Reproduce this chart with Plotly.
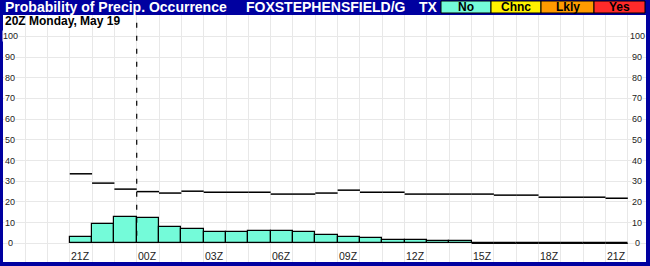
import plotly.graph_objects as go

# ---------------- data ----------------
hour_labels = ["21Z", "00Z", "03Z", "06Z", "09Z", "12Z", "15Z", "18Z", "21Z"]
label_every = 3
pop_no = [3.2, 9.2, 12.9, 12.1, 8.1, 6.8, 5.6, 5.6, 6.0, 6.0, 5.3, 3.9, 2.9,
          2.4, 1.6, 1.6, 1.1, 1.1, 0, 0, 0, 0, 0, 0, 0]
pop_other = [33.6, 29.1, 26.2, 25.0, 24.3, 25.2, 24.7, 24.7, 24.7, 23.8, 23.8,
             24.3, 25.7, 24.7, 24.7, 23.8, 23.8, 23.8, 23.8, 23.3, 23.3, 22.3,
             22.3, 22.3, 21.8]
y_ticks = [0, 10, 20, 30, 40, 50, 60, 70, 80, 90, 100]
now_index = 2.5
title_text = "Probability of Precip. Occurrence"
station = "FOXSTEPHENSFIELD/G"
state = "TX"
subtitle = "20Z Monday, May 19"
cat_names = ["No", "Chnc", "Lkly", "Yes"]
cat_colors = ["#74FBD9", "#FFF200", "#FF9A00", "#FF2A2A"]

# ---------------- geometry helpers ----------------
W, H = 650, 266
ML, MR, MT, MB = 3, 4, 15, 4
PW, PH = W - ML - MR, H - MT - MB
def px(x):
    return (x - ML) / PW
def py(y):
    return (H - MB - y) / PH

FONT = "Liberation Sans, Arial, sans-serif"
n = len(pop_no)
hours = list(range(n))

fig = go.Figure()

# bars
fig.add_trace(go.Bar(x=hours, y=pop_no, width=1,
                     marker=dict(color=cat_colors[0], line=dict(color="black", width=1.2)),
                     hoverinfo="skip", showlegend=False))

# zero baseline for hours with zero value
zx, zy = [], []
for h, v in zip(hours, pop_no):
    if v == 0:
        zx += [h - 0.5, h + 0.5, None]
        zy += [0, 0, None]
fig.add_trace(go.Scatter(x=zx, y=zy, mode="lines",
                         line=dict(color="black", width=1.2),
                         hoverinfo="skip", showlegend=False))

# step segments
sx, sy = [], []
for h, v in zip(hours, pop_other):
    sx += [h - 0.5, h + 0.5, None]
    sy += [v, v, None]
fig.add_trace(go.Scatter(x=sx, y=sy, mode="lines",
                         line=dict(color="black", width=1.5),
                         hoverinfo="skip", showlegend=False))

# current time dashed line
fig.add_shape(type="line", xref="x", yref="y", x0=now_index, x1=now_index,
              y0=106.5, y1=0, line=dict(color="black", width=1.2, dash="5px,8px"),
              layer="above")

annotations = []
# x labels
for k, lab in enumerate(hour_labels):
    annotations.append(dict(x=k * label_every, y=-6.0, xref="x", yref="y",
                            xanchor="center", yanchor="middle",
                            text=lab, showarrow=False,
                            font=dict(family=FONT, size=10.5, color="#222")))
# y labels (left and right)
for v in y_ticks:
    for xp in (10, 637):
        annotations.append(dict(x=px(xp), y=v, xref="paper", yref="y",
                                xanchor="center", yanchor="middle",
                                text=str(v), showarrow=False, bgcolor="white",
                                borderpad=0,
                                font=dict(family=FONT, size=9, color="#222")))
# title bar
ty = py(7.5)
for xp, txt in ((3, title_text), (244, station), (417, state)):
    annotations.append(dict(x=px(xp), y=ty, xref="paper", yref="paper",
                            xanchor="left", yanchor="middle",
                            text="<b>%s</b>" % txt, showarrow=False,
                            font=dict(family=FONT, size=14, color="white")))
annotations.append(dict(x=px(3), y=py(21), xref="paper", yref="paper",
                        xanchor="left", yanchor="middle",
                        text="<b>%s</b>" % subtitle, showarrow=False,
                        font=dict(family=FONT, size=12, color="black")))

# legend boxes
edges = [441, 491, 541, 594, 645]
for i, (name, col) in enumerate(zip(cat_names, cat_colors)):
    x0, x1 = edges[i], edges[i + 1]
    fig.add_shape(type="rect", xref="paper", yref="paper",
                  x0=px(x0), x1=px(x1), y0=py(13), y1=py(1),
                  fillcolor=col, line=dict(color="black", width=1), layer="above")
    annotations.append(dict(x=px((x0 + x1) / 2), y=py(7), xref="paper", yref="paper",
                            xanchor="center", yanchor="middle",
                            text="<b>%s</b>" % name, showarrow=False,
                            font=dict(family=FONT, size=12, color="black")))

fig.update_layout(
    width=W, height=H,
    margin=dict(l=ML, r=MR, t=MT, b=MB, pad=0),
    paper_bgcolor="#0000A0", plot_bgcolor="white",
    bargap=0, showlegend=False,
    annotations=annotations,
    xaxis=dict(range=[(ML - 81.5) / 22.3 + 0.03, (W - MR - 81.5) / 22.3],
               tickvals=[h - 0.5 for h in range(-3, n + 2)],
               showticklabels=False, ticks="", showgrid=True,
               gridcolor="#E8E8E8", gridwidth=1, zeroline=False, showline=False,
               fixedrange=True),
    yaxis=dict(range=[-9.0, 110.3], tickvals=y_ticks, showticklabels=False,
               ticks="", showgrid=True, gridcolor="#E8E8E8", gridwidth=1,
               zeroline=False, showline=False, fixedrange=True),
)

fig.write_html("out.html")
